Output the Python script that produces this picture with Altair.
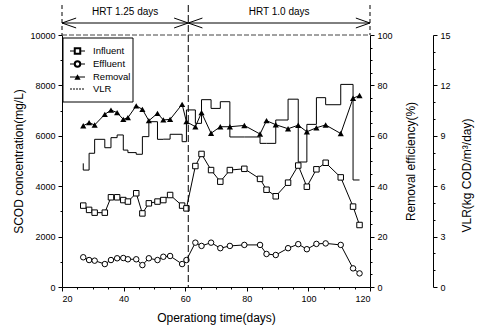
import altair as alt
import pandas as pd

# ---------------- data ----------------
days = [26.9, 28.8, 30.6, 33.9, 35.9, 37.9, 39.9, 41.4, 44.1, 46.1, 48.2, 51.0, 52.9, 55.1, 59.0, 60.4,
        63.3, 65.3, 68.4, 71.4, 74.5, 79.2, 84.3, 86.4, 89.4, 93.4, 96.7, 99.5, 102.6, 105.6, 110.5, 114.5, 116.6]
influent = [3230, 3060, 2950, 2950, 3560, 3560, 3450, 3390, 3720, 2920, 3320, 3390, 3450, 3650, 3230, 3120,
            4800, 5280, 4640, 4180, 4640, 4690, 4290, 3860, 3600, 4140, 4820, 3980, 4670, 4930, 4350, 3190, 2460]
effluent = [1180, 1070, 1045, 910, 1070, 1140, 1150, 1100, 1100, 870, 1140, 1070, 1200, 1230, 910, 1070,
            1760, 1630, 1760, 1540, 1630, 1670, 1670, 1310, 1270, 1540, 1700, 1500, 1710, 1730, 1670, 740, 540]
removal = [64.0, 65.2, 64.3, 68.5, 70.2, 69.2, 66.5, 67.2, 71.9, 70.5, 66.0, 68.9, 66.3, 66.5, 72.5, 65.6,
           63.6, 69.2, 61.0, 63.6, 63.6, 64.1, 60.7, 66.0, 64.4, 62.8, 64.2, 61.6, 63.2, 64.3, 60.9, 74.9, 76.0]
vlr = [7.36, 6.96, 7.96, 8.79, 8.29, 8.89, 9.05, 8.15, 8.0, 7.9, 8.95, 9.84, 8.79, 8.8, 9.09, 8.65,
       10.54, 9.74, 11.15, 10.63, 11.03, 8.93, 8.93, 8.55, 8.55, 9.94, 11.18, 7.44, 9.68, 11.27, 10.85, 12.06, 6.37]

hrt_start = [20, 61]
hrt_end = [61, 120]
hrt_labels = ["HRT 1.25 days", "HRT 1.0 days"]
switch_day = [61]

legend_labels = ["Influent", "Effluent", "Removal", "VLR"]

# ---------------- tables ----------------
df = pd.DataFrame({"day": days, "influent": influent, "effluent": effluent,
                   "removal": removal, "vlr": vlr})
hrt = pd.DataFrame({"day": hrt_start, "day2": hrt_end, "label": hrt_labels,
                    "mid": [(a + b) / 2 for a, b in zip(hrt_start, hrt_end)]})

FONT = "Liberation Sans, Arial"
W, H = 308, 252
LAB = 9
TIT = 12


def cond_tick(step, big=4, small=2):
    return {"condition": {"test": f"datum.value % {step} === 0", "value": big}, "value": small}


x_axis = alt.Axis(values=list(range(20, 121, 5)), format="d",
                  labelExpr="datum.value % 20 === 0 ? datum.label : ''",
                  tickSize=cond_tick(20), title="Operationg time(days)",
                  titleX=W / 2, titleY=25, titleFontSize=TIT, titleFontWeight="normal",
                  labelFontSize=LAB, labelPadding=3, grid=False,
                  domainColor="black", tickColor="black", labelColor="black", titleColor="black",
                  labelFont=FONT, titleFont=FONT)
x_scale = alt.Scale(domain=[20, 120], nice=False, zero=False)


def X(field="day"):
    return alt.X(f"{field}:Q", scale=x_scale, axis=x_axis)


def yaxis(title, orient, step_minor, step_major, top, titleX, titleY, offset=0):
    return alt.Axis(orient=orient, offset=offset, format="d",
                    values=[v for v in range(0, top + 1, step_minor)],
                    labelExpr=f"datum.value % {step_major} === 0 ? datum.label : ''",
                    tickSize=cond_tick(step_major), title=title, titleAngle=270,
                    titleX=titleX, titleY=titleY, titleAlign="center", titleBaseline="middle",
                    titleFontSize=TIT, titleFontWeight="normal", labelFontSize=LAB,
                    labelPadding=3, grid=False, domainColor="black", tickColor="black",
                    labelColor="black", titleColor="black", labelFont=FONT, titleFont=FONT)


y_scod = alt.Y("v:Q", scale=alt.Scale(domain=[0, 10000], nice=False),
               axis=yaxis("SCOD concentration(mg/L)", "left", 1000, 2000, 10000, -44, H / 2))
y_rem = alt.Y("removal:Q", scale=alt.Scale(domain=[0, 100], nice=False),
              axis=yaxis("Removal efficiency(%)", "right", 5, 20, 100, 40, H / 2))
y_vlr = alt.Y("vlr:Q", scale=alt.Scale(domain=[0, 15], nice=False),
              axis=yaxis("VLR(kg COD/m³/day)", "right", 1, 3, 15, 33, 140, offset=63))

base = alt.Chart(df)

inf_line = base.mark_line(color="black", strokeWidth=1).transform_calculate(v="datum.influent").encode(x=X(), y=y_scod)
inf_pts = base.mark_point(shape="square", filled=True, fill="white", stroke="black", strokeWidth=1,
                          size=30, opacity=1).transform_calculate(v="datum.influent").encode(x=X(), y=y_scod)
eff_line = base.mark_line(color="black", strokeWidth=1).transform_calculate(v="datum.effluent").encode(x=X(), y=y_scod)
eff_pts = base.mark_point(shape="circle", filled=True, fill="white", stroke="black", strokeWidth=1,
                          size=30, opacity=1).transform_calculate(v="datum.effluent").encode(x=X(), y=y_scod)
scod = alt.layer(inf_line, inf_pts, eff_line, eff_pts)

rem_line = base.mark_line(color="black", strokeWidth=1).encode(x=X(), y=y_rem)
rem_pts = base.mark_point(shape="triangle-up", filled=True, color="black", size=38, opacity=1).encode(x=X(), y=y_rem)
rem = alt.layer(rem_line, rem_pts)

vlr_line = base.mark_line(color="black", strokeWidth=1, interpolate="step-before").encode(x=X(), y=y_vlr)

# ---------------- annotations ----------------
ann = alt.Chart(hrt)
vline = alt.Chart(pd.DataFrame({"day": switch_day})).mark_rule(
    color="black", strokeWidth=1, strokeDash=[7, 3]).encode(x=X(), y=alt.value(-30), y2=alt.value(H))
edge_lines = alt.Chart(pd.DataFrame({"day": [hrt_start[0], hrt_end[-1]]})).mark_rule(
    color="black", strokeWidth=1, strokeDash=[4, 3]).encode(x=X(), y=alt.value(-30), y2=alt.value(0))
arrow_line = ann.mark_rule(color="black", strokeWidth=1).encode(
    x=X(), x2=alt.X2("day2:Q"), y=alt.value(-12))
head_left = ann.mark_point(shape="M0,0L2,-0.7M0,0L2,0.7", filled=False, color="black",
                           strokeWidth=1, size=200, opacity=1).encode(x=X(), y=alt.value(-12))
head_right = ann.mark_point(shape="M0,0L-2,-0.7M0,0L-2,0.7", filled=False, color="black",
                            strokeWidth=1, size=200, opacity=1).encode(x=X("day2"), y=alt.value(-12))
hrt_text = ann.mark_text(font=FONT, fontSize=10, color="black", baseline="middle").encode(
    x=X("mid"), y=alt.value(-23), text="label:N")
top_border = alt.Chart(pd.DataFrame({"a": [0]})).mark_rule(
    color="#444", strokeWidth=1, strokeDash=[5, 2]).encode(x=alt.value(0), x2=alt.value(W), y=alt.value(0))

# ---------------- legend ----------------
leg_box = alt.Chart(pd.DataFrame({"a": [0]})).mark_rect(
    fill="white", stroke="black", strokeWidth=1).encode(
    x=alt.value(1), x2=alt.value(71), y=alt.value(3), y2=alt.value(67))
leg_rows = [16, 29, 42, 54]
leg_layers = [leg_box]
for i, (lab, ry) in enumerate(zip(legend_labels, leg_rows)):
    one = alt.Chart(pd.DataFrame({"label": [lab]}))
    dash = [2, 1] if lab == "VLR" else [1, 0]
    leg_layers.append(one.mark_rule(color="black", strokeWidth=1, strokeDash=dash).encode(
        x=alt.value(8), x2=alt.value(23), y=alt.value(ry)))
    if lab == "Influent":
        leg_layers.append(one.mark_point(shape="square", filled=True, fill="white", stroke="black",
                                         size=30, opacity=1).encode(x=alt.value(15.5), y=alt.value(ry)))
    elif lab == "Effluent":
        leg_layers.append(one.mark_point(shape="circle", filled=True, fill="white", stroke="black",
                                         size=30, opacity=1).encode(x=alt.value(15.5), y=alt.value(ry)))
    elif lab == "Removal":
        leg_layers.append(one.mark_point(shape="triangle-up", filled=True, color="black",
                                         size=38, opacity=1).encode(x=alt.value(15.5), y=alt.value(ry)))
    leg_layers.append(one.mark_text(font=FONT, fontSize=9.5, color="black", align="left",
                                    baseline="middle").encode(x=alt.value(31), y=alt.value(ry), text="label:N"))

annot = alt.layer(vline, edge_lines, arrow_line, head_left, head_right, hrt_text, top_border, *leg_layers)

chart = alt.layer(scod, rem, vlr_line, annot).resolve_scale(y="independent").properties(
    width=W, height=H,
    autosize=alt.AutoSizeParams(type="none"),
    padding={"left": 62, "top": 35, "right": 481 - 62 - W, "bottom": 333 - 35 - H},
    background="white",
).configure_view(stroke=None)

chart.save("out.html", embed_options={"renderer": "svg", "actions": False})
